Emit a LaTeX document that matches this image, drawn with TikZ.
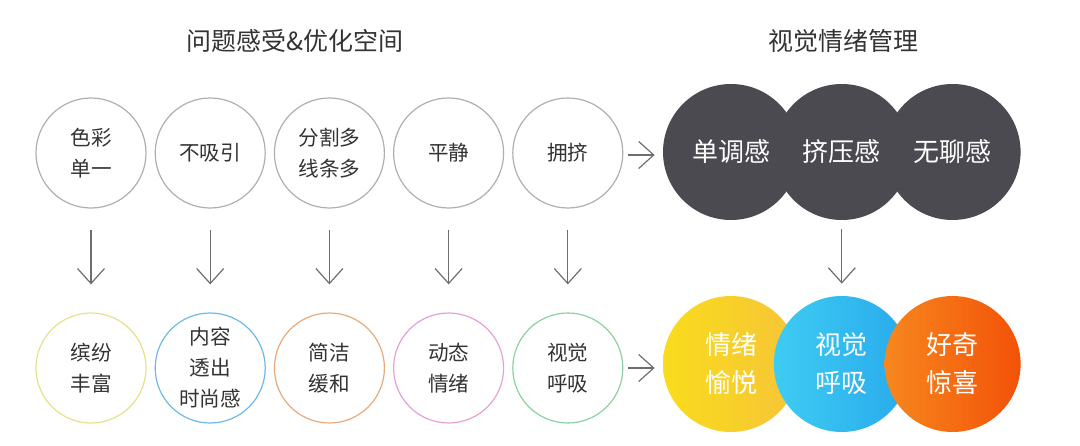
\documentclass[tikz,border=0pt]{standalone}
\usepackage{fontspec}
\setmainfont{Noto Sans CJK SC}
\usetikzlibrary{positioning,arrows.meta}
\definecolor{fmtext}{RGB}{51,51,51}
\definecolor{fmring}{RGB}{175,175,175}
\definecolor{fmarrow}{RGB}{110,110,110}
\definecolor{fmdark}{RGB}{74,74,80}
\definecolor{fmringyellow}{RGB}{230,225,140}
\definecolor{fmringblue}{RGB}{110,185,232}
\definecolor{fmringorange}{RGB}{232,170,125}
\definecolor{fmringpink}{RGB}{230,160,215}
\definecolor{fmringgreen}{RGB}{140,210,160}
\definecolor{fmyellowl}{RGB}{249,220,28}
\definecolor{fmyellowr}{RGB}{246,196,56}
\definecolor{fmbluel}{RGB}{62,204,242}
\definecolor{fmbluer}{RGB}{40,170,236}
\definecolor{fmorangel}{RGB}{247,135,30}
\definecolor{fmoranger}{RGB}{243,82,8}
\tikzset{
  issue/.style={
    circle, draw=fmring, line width=0.6pt, minimum size=55pt, inner sep=0pt,
    align=center, text=fmtext, font=\fontsize{10.3}{15.5}\selectfont
  },
  fix/.style={issue, draw=#1},
  mood/.style={
    circle, fill=fmdark, minimum size=68pt, inner sep=0pt,
    align=center, text=white, font=\fontsize{13}{19}\selectfont
  },
  glow/.style 2 args={mood, fill=none, left color=#1, right color=#2},
  heading/.style={font=\fontsize{12.5}{15}\selectfont, text=fmtext},
  ar/.style={-{Straight Barb[length=7.5pt,width=13.5pt]}, draw=fmarrow, line width=0.6pt},
}
\begin{document}
\begin{tikzpicture}[x=0.5pt, y=0.5pt]
  \useasboundingbox (0,0) rectangle (1080,445);

  % ===== headings =====
  \node[heading] (headl) at (295,404) {问题感受\&优化空间};
  \node[heading] (headr) at (843,404) {视觉情绪管理};

  % ===== top row: problems =====
  \node[issue] (p1) at (91,292) {色彩\\单一};
  \node[issue, right=4pt of p1] (p2) {不吸引};
  \node[issue, right=4pt of p2] (p3) {分割多\\线条多};
  \node[issue, right=4pt of p3] (p4) {平静};
  \node[issue, right=4pt of p4] (p5) {拥挤};

  \node[mood] (m1) at (731,293) {单调感};
  \node[mood, right=-13pt of m1] (m2) {挤压感};
  \node[mood, right=-13pt of m2] (m3) {无聊感};

  % ===== bottom row: answers =====
  \node[fix=fmringyellow] (s1) at (91,77) {缤纷\\丰富};
  \node[fix=fmringblue, right=4pt of s1] (s2) {内容\\透出\\时尚感};
  \node[fix=fmringorange, right=4pt of s2] (s3) {简洁\\缓和};
  \node[fix=fmringpink, right=4pt of s3] (s4) {动态\\情绪};
  \node[fix=fmringgreen, right=4pt of s4] (s5) {视觉\\呼吸};

  \node[glow={fmyellowl}{fmyellowr}] (g1) at (731,81) {情绪\\愉悦};
  \node[glow={fmbluel}{fmbluer}, right=-13pt of g1] (g2) {视觉\\呼吸};
  \node[glow={fmorangel}{fmoranger}, right=-13pt of g2] (g3) {好奇\\惊喜};

  % ===== arrows =====
  \foreach \i in {1,...,5}
    \draw[ar, shorten <=10.5pt, shorten >=14pt] (p\i.south) -- (s\i.north);
  \draw[ar, shorten <=4.5pt, shorten >=6pt] (m2.south) -- (g2.north);
  \draw[ar, shorten <=2.5pt, shorten >=4pt] ([yshift=-1pt]p5.east) -- ([yshift=-1pt]p5.east -| m1.west);
  \draw[ar, shorten <=2.5pt, shorten >=4pt] (s5.east) -- (s5.east -| g1.west);

\end{tikzpicture}
\end{document}
